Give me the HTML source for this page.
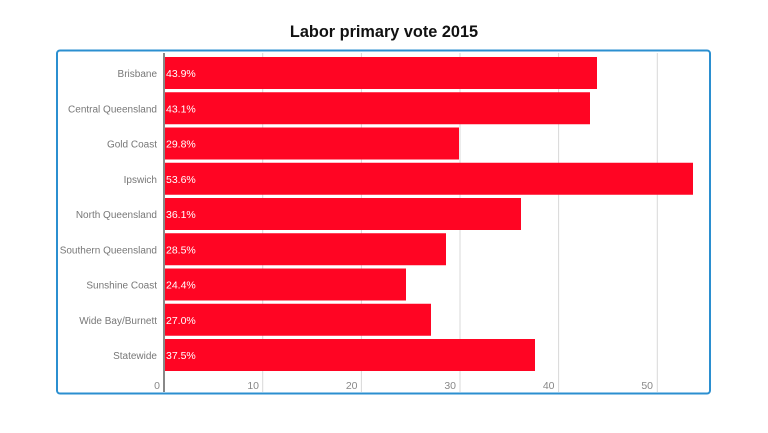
<!DOCTYPE html>
<html><head><meta charset="utf-8"><style>
html,body{margin:0;padding:0;background:#fff;width:768px;height:433px;overflow:hidden}
svg{display:block;font-family:"Liberation Sans",sans-serif}
</style></head><body>
<svg width="768" height="433" viewBox="0 0 768 433">
<text x="384" y="37" text-anchor="middle" font-size="16.3" font-weight="bold" fill="#111">Labor primary vote 2015</text>
<rect x="57" y="50.5" width="653" height="343" rx="3" fill="#fff" stroke="#2b8fd0" stroke-width="2"/>
<g stroke="#d8d8d8" stroke-width="1">
<line x1="262.7" y1="53" x2="262.7" y2="392"/>
<line x1="361.4" y1="53" x2="361.4" y2="392"/>
<line x1="460" y1="53" x2="460" y2="392"/>
<line x1="558.6" y1="53" x2="558.6" y2="392"/>
<line x1="657.3" y1="53" x2="657.3" y2="392"/>
</g>
<g fill="#ff0523">
<rect x="165" y="57" width="432" height="32"/>
<rect x="165" y="92.25" width="425" height="32"/>
<rect x="165" y="127.5" width="294" height="32"/>
<rect x="165" y="162.75" width="528" height="32"/>
<rect x="165" y="198" width="356" height="32"/>
<rect x="165" y="233.25" width="281" height="32"/>
<rect x="165" y="268.5" width="241" height="32"/>
<rect x="165" y="303.75" width="266" height="32"/>
<rect x="165" y="339" width="370" height="32"/>
</g>
<line x1="164" y1="53" x2="164" y2="392" stroke="#888" stroke-width="2"/>
<g font-size="10.5" fill="#fff">
<text x="166" y="77">43.9%</text>
<text x="166" y="112.25">43.1%</text>
<text x="166" y="147.5">29.8%</text>
<text x="166" y="182.75">53.6%</text>
<text x="166" y="218">36.1%</text>
<text x="166" y="253.25">28.5%</text>
<text x="166" y="288.5">24.4%</text>
<text x="166" y="323.75">27.0%</text>
<text x="166" y="359">37.5%</text>
</g>
<g font-size="10" fill="#777" text-anchor="end">
<text x="157" y="77">Brisbane</text>
<text x="157" y="112.25">Central Queensland</text>
<text x="157" y="147.5">Gold Coast</text>
<text x="157" y="182.75">Ipswich</text>
<text x="157" y="218">North Queensland</text>
<text x="157" y="253.25">Southern Queensland</text>
<text x="157" y="288.5">Sunshine Coast</text>
<text x="157" y="323.75">Wide Bay/Burnett</text>
<text x="157" y="359">Statewide</text>
</g>
<g font-size="10.5" fill="#888" text-anchor="end">
<text x="160" y="389">0</text>
<text x="259" y="389">10</text>
<text x="357.5" y="389">20</text>
<text x="456" y="389">30</text>
<text x="554.5" y="389">40</text>
<text x="653" y="389">50</text>
</g>
</svg>
</body></html>
